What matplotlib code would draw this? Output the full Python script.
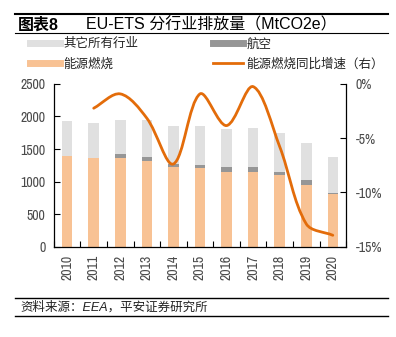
import numpy as np
import matplotlib
matplotlib.use("Agg")
import matplotlib.pyplot as plt
from matplotlib import font_manager
from matplotlib.path import Path
from matplotlib.patches import PathPatch
from matplotlib.lines import Line2D

plt.rcParams['font.family'] = ['Liberation Sans', 'Noto Sans CJK SC', 'DejaVu Sans']
font_names = {f.name for f in font_manager.fontManager.ttflist}
if 'Liberation Sans Narrow' in font_names:
    NARROW, tick_size = ['Liberation Sans Narrow'], 9.5
elif 'Archivo Narrow' in font_names:
    NARROW, tick_size = ['Archivo Narrow'], 10
else:
    NARROW, tick_size = ['Liberation Sans'], 8.5

years = ['2010', '2011', '2012', '2013', '2014', '2015', '2016', '2017', '2018', '2019', '2020']
total = [1931, 1896, 1947, 1947, 1855, 1855, 1804, 1824, 1752, 1598, 1378]
aviation = [0, 0, 66, 56, 51, 46, 72, 72, 51, 77, 20]
energy = [1394, 1368, 1358, 1317, 1225, 1209, 1153, 1153, 1097, 948, 810]
growth = [-2.24, -0.92, -3.16, -7.38, -0.92, -3.84, -0.25, -5.78, -12.9, -13.95]  # 2011-2020, %

c_other = '#e0e0e0'
c_avi = '#969696'
c_energy = '#f8c294'
c_line = '#e36c0a'
tick_color = '#4a4a4a'

fig = plt.figure(figsize=(3.96, 3.37), dpi=100)
ax = fig.add_axes([0.136, 0.268, 0.738, 0.483])

x = np.arange(len(years))
other = np.array(total) - np.array(aviation) - np.array(energy)
w = 0.4
ax.bar(x, energy, w, color=c_energy, zorder=2)
ax.bar(x, aviation, w, bottom=energy, color=c_avi, zorder=2)
ax.bar(x, other, w, bottom=np.array(energy) + np.array(aviation), color=c_other, zorder=2)

ax.set_xlim(-0.5, len(years) - 0.5)
ax.set_ylim(0, 2500)
ax.set_yticks([0, 500, 1000, 1500, 2000, 2500])
ax.set_xticks(x)
ax.set_xticklabels(years, rotation=90)
ax.set_xticks(np.arange(-0.5, len(years)), minor=True)
ax.tick_params(axis='x', which='major', length=0, pad=6)
ax.tick_params(axis='x', which='minor', direction='in', length=4, width=0.8)
ax.tick_params(axis='y', direction='in', length=4, width=0.8, pad=6)
ax.tick_params(labelsize=tick_size, labelcolor=tick_color)
for s in ['top', 'right']:
    ax.spines[s].set_visible(False)
for s in ['left', 'bottom']:
    ax.spines[s].set_linewidth(0.9)

ax2 = ax.twinx()
ax2.set_ylim(-15, 0)
ax2.set_yticks([0, -5, -10, -15])
ax2.set_yticklabels(['0%', '-5%', '-10%', '-15%'])
ax2.tick_params(axis='y', direction='in', length=4, width=0.8, labelsize=tick_size,
                labelcolor=tick_color, pad=7)
for s in ['top', 'left', 'bottom']:
    ax2.spines[s].set_visible(False)
ax2.spines['right'].set_linewidth(0.9)

for lab in ax.get_xticklabels() + ax.get_yticklabels() + ax2.get_yticklabels():
    lab.set_family(NARROW)

# smoothed line (Bezier through the points, control arms scaled by segment length
# in screen units, like a spreadsheet "smooth line")
px = np.arange(1, len(years), dtype=float)
py = np.array(growth)
sx, sy = 26.6, 10.85  # approx px per category / per percent
P = np.column_stack([px * sx, py * sy])
n = len(P)
tangents = []
for i in range(n):
    if i == 0:
        t = P[1] - P[0]
    elif i == n - 1:
        t = P[-1] - P[-2]
    else:
        t = P[i + 1] - P[i - 1]
    tangents.append(t)
verts = [tuple(P[0])]
codes = [Path.MOVETO]
for i in range(n - 1):
    d = np.linalg.norm(P[i + 1] - P[i])
    dp = np.linalg.norm(P[i] - P[i - 1]) if i > 0 else d
    dn = np.linalg.norm(P[i + 2] - P[i + 1]) if i + 2 < n else d
    if 0 < i:
        c1 = P[i] + tangents[i] * d / (dp + d) / 3
    else:
        c1 = P[i] + tangents[i] / 3
    if i + 1 < n - 1:
        c2 = P[i + 1] - tangents[i + 1] * d / (d + dn) / 3
    else:
        c2 = P[i + 1] - tangents[i + 1] / 3
    verts += [tuple(c1), tuple(c2), tuple(P[i + 1])]
    codes += [Path.CURVE4] * 3
verts = [(vx / sx, vy / sy) for vx, vy in verts]
ax2.add_patch(PathPatch(Path(verts, codes), facecolor='none', edgecolor=c_line,
                        lw=2, capstyle='round', joinstyle='round', zorder=3))

# legend (row-wise order)
handles = [Line2D([], [], color=c_other, lw=5), Line2D([], [], color=c_energy, lw=5),
           Line2D([], [], color=c_avi, lw=5), Line2D([], [], color=c_line, lw=2)]
labels = ['其它所有行业', '能源燃烧', '航空', '能源燃烧同比增速（右）']
fig.legend(handles, labels, ncol=2, loc='upper left', bbox_to_anchor=(0.076, 0.887),
           frameon=False, fontsize=9, handlelength=2.4, handletextpad=0.25,
           columnspacing=6.0, labelspacing=0.62, borderpad=0, borderaxespad=0,
           labelcolor='#222222')

# title and footer
fig.add_artist(Line2D([0.038, 0.98], [0.957, 0.957], color='black', lw=1.5))
fig.add_artist(Line2D([0.038, 0.98], [0.901, 0.901], color='black', lw=0.8))
fig.text(0.045, 0.927, '图表8', fontsize=11.5, fontweight='bold', va='center')
fig.text(0.217, 0.927, 'EU-ETS 分行业排放量（MtCO2e）', fontsize=11.5, va='center')

fig.add_artist(Line2D([0.038, 0.98], [0.116, 0.116], color='black', lw=1.0))
fig.add_artist(Line2D([0.038, 0.98], [0.062, 0.062], color='black', lw=1.0))
fig.text(0.052, 0.089, '资料来源：EEA，平安证券研究所', fontsize=9, style='italic',
         va='center', color='#222222')

fig.savefig('out.png', dpi=100)
